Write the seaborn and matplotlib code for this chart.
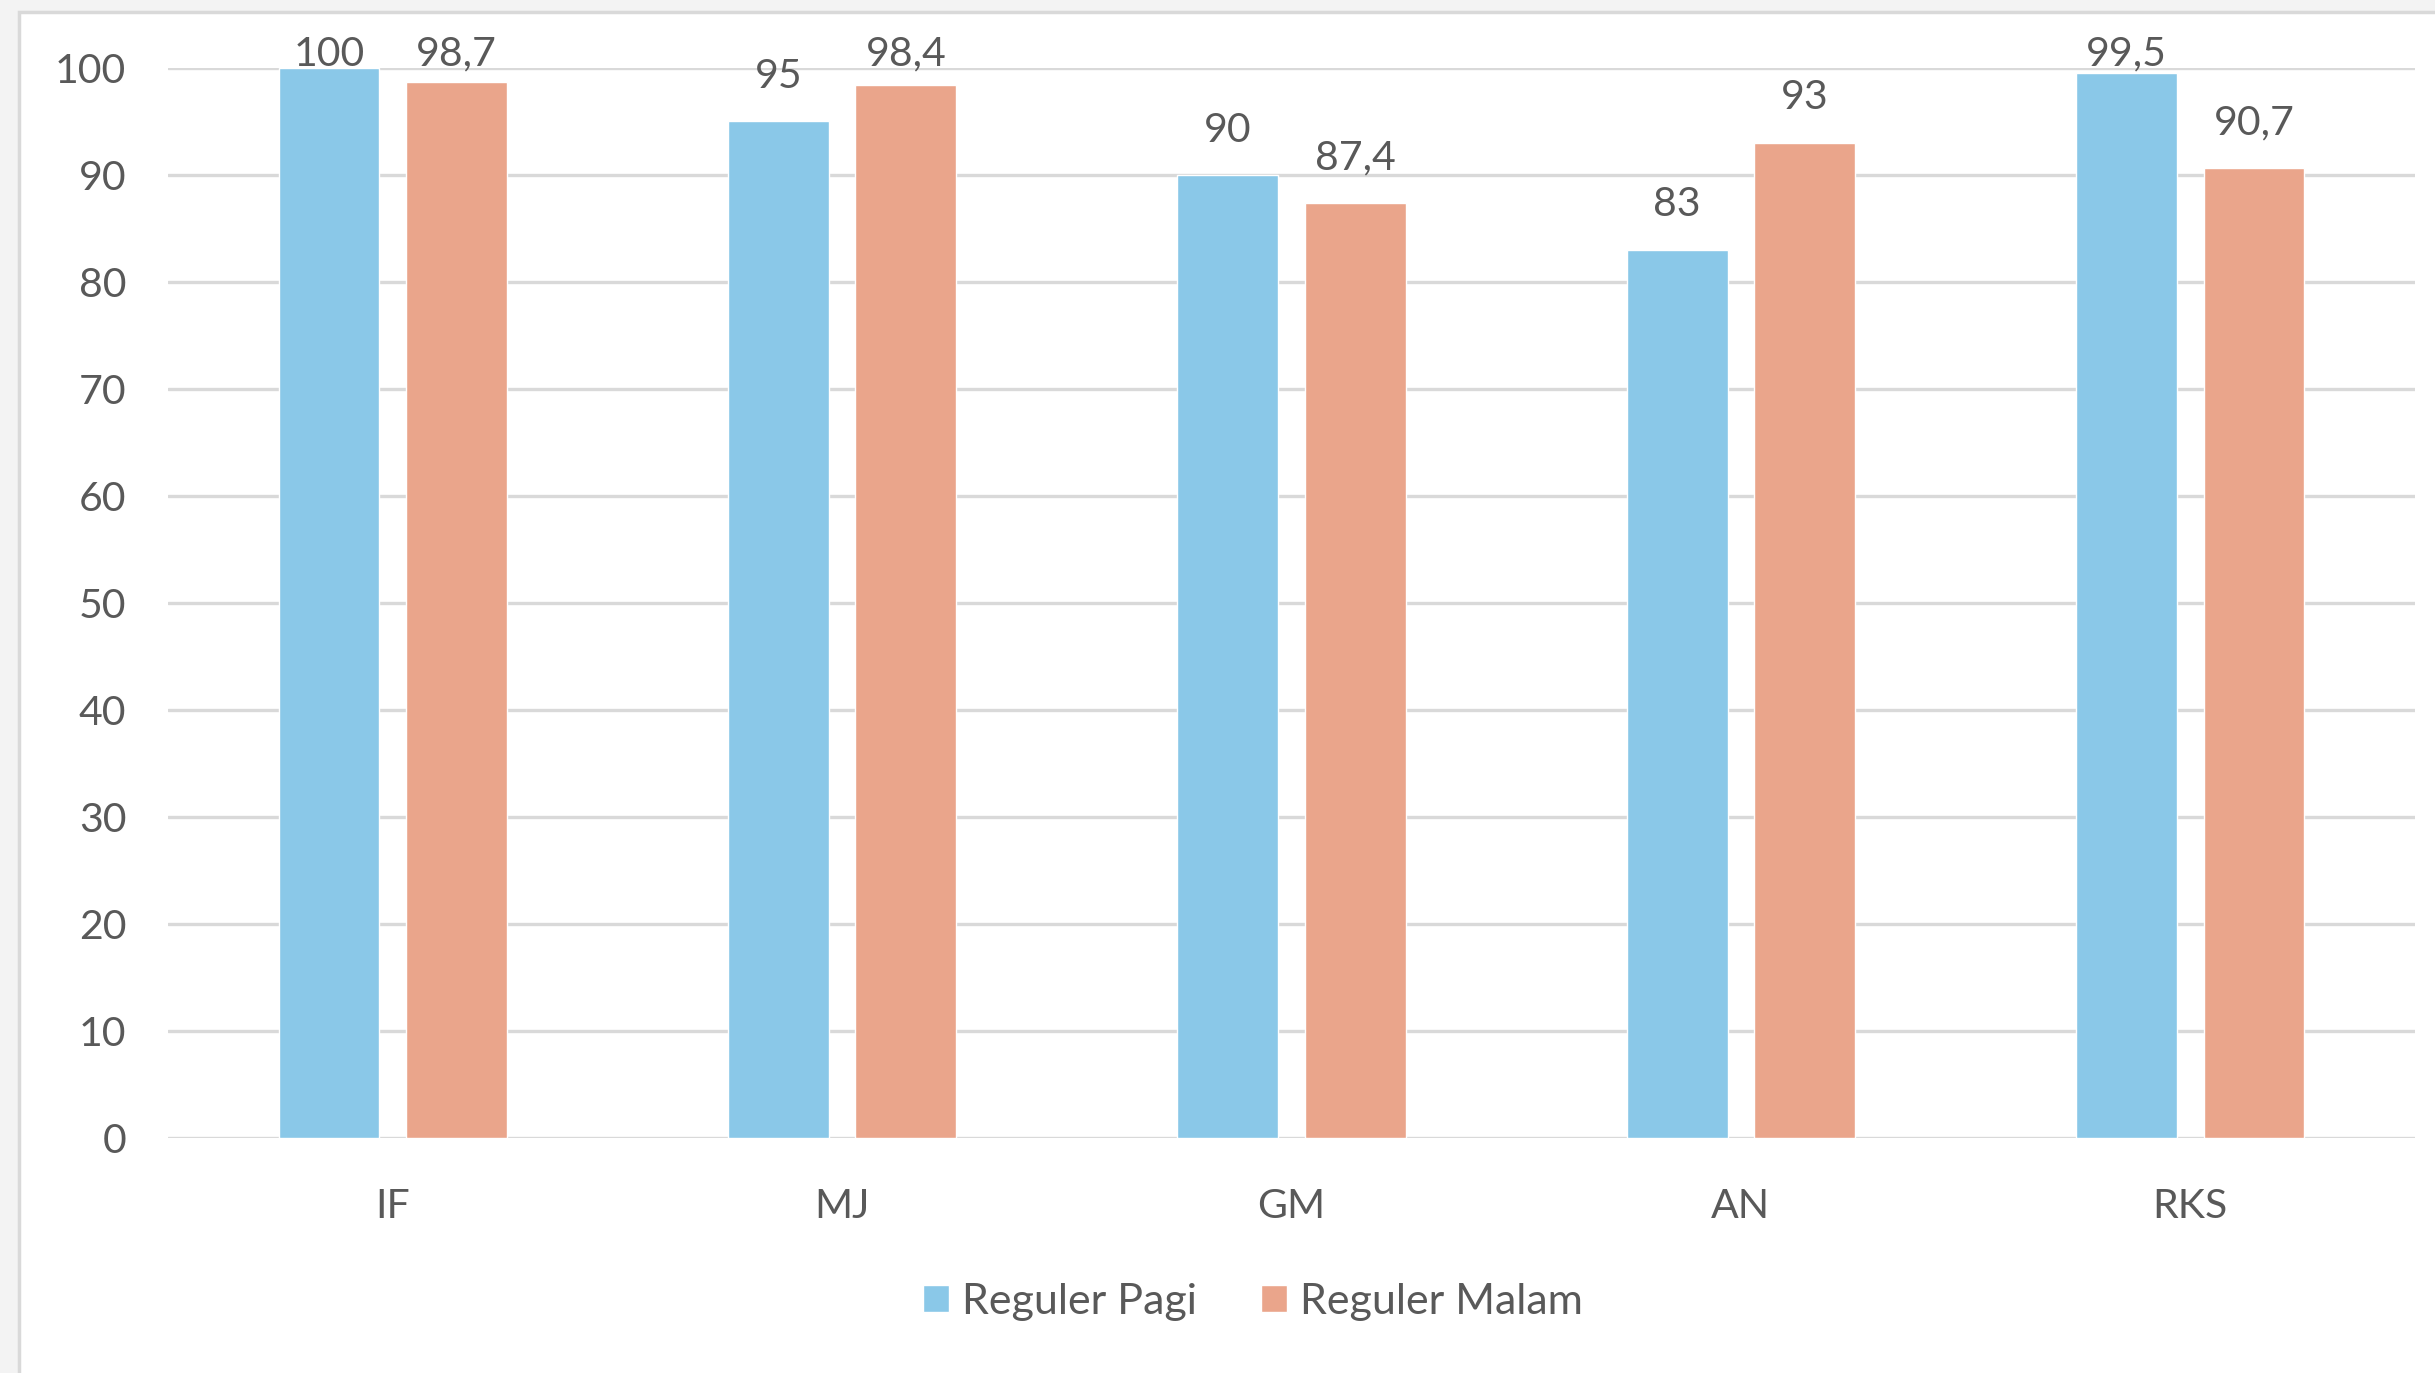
import pandas as pd
import matplotlib
matplotlib.use("Agg")
import matplotlib.pyplot as plt
from matplotlib.patches import Rectangle
import seaborn as sns

# data
categories = ["IF", "MJ", "GM", "AN", "RKS"]
reguler_pagi = [100, 95, 90, 83, 99.5]
reguler_malam = [98.7, 98.4, 87.4, 93, 90.7]
series_names = ["Reguler Pagi", "Reguler Malam"]
y_ticks = [0, 10, 20, 30, 40, 50, 60, 70, 80, 90, 100]

BLUE = "#8AC8E8"
ORANGE = "#EAA58B"
TEXT = "#595959"
GRID = "#D9D9D9"

sns.set_style("white")
plt.rcParams["font.family"] = ["Lato", "DejaVu Sans"]

W, H = 2435, 1373


def fmt_id(v):
    # Indonesian decimal comma
    s = f"{v:g}"
    return s.replace(".", ",")


def main():
    df = pd.DataFrame({
        "Prodi": categories * 2,
        "Seri": [series_names[0]] * len(categories) + [series_names[1]] * len(categories),
        "Nilai": reguler_pagi + reguler_malam,
    })

    fig = plt.figure(figsize=(W / 100, H / 100), dpi=100)
    fig.patch.set_facecolor("#F3F3F3")
    # white chart area with grey border (cut off at right and bottom)
    fig.patches.append(Rectangle((19 / W, -0.1), 1.2, 1 - 12 / H + 0.1,
                                 transform=fig.transFigure, facecolor="white",
                                 edgecolor=GRID, linewidth=2.5, zorder=-1))

    ax = fig.add_axes([168 / W, 1 - 1138 / H, (2415 - 168) / W, (1138 - 68) / H])
    ax.set_facecolor("none")

    sns.barplot(data=df, x="Prodi", y="Nilai", hue="Seri", order=categories,
                hue_order=series_names, palette=[BLUE, ORANGE], width=0.567,
                gap=0.21, saturation=1, ax=ax, zorder=3)

    ax.set_xlim(-0.5, len(categories) - 0.5)
    ax.set_ylim(0, 100)
    ax.set_yticks(y_ticks)
    ax.yaxis.grid(True, color=GRID, linewidth=2.4, zorder=0)
    ax.set_axisbelow(True)
    for sp in ax.spines.values():
        sp.set_visible(False)
    ax.tick_params(axis="both", length=0, labelsize=29.5, labelcolor=TEXT)
    ax.tick_params(axis="y", pad=30)
    ax.tick_params(axis="x", pad=36)
    ax.set_xlabel("")
    ax.set_ylabel("")

    # value labels above bars; like Excel they get pushed down to stay in the chart
    offset, cap = 4.2, 101.3
    for cont, vals in zip(ax.containers, [reguler_pagi, reguler_malam]):
        for bar, v in zip(cont, vals):
            x = bar.get_x() + bar.get_width() / 2
            y = min(bar.get_height() + offset, cap)
            ax.text(x, y, fmt_id(v), ha="center", va="center", fontsize=29.5,
                    color=TEXT, clip_on=False, zorder=5)

    handles, labels = ax.get_legend_handles_labels()
    ax.legend(handles, labels, loc="center", bbox_to_anchor=(1253 / W, 1 - 1302 / H),
              bbox_transform=fig.transFigure, ncol=2, frameon=False, fontsize=31,
              labelcolor=TEXT, handlelength=0.6, handleheight=0.6,
              handletextpad=0.3, columnspacing=1.5)

    fig.savefig("out.png", dpi=100)


if __name__ == "__main__":
    main()
